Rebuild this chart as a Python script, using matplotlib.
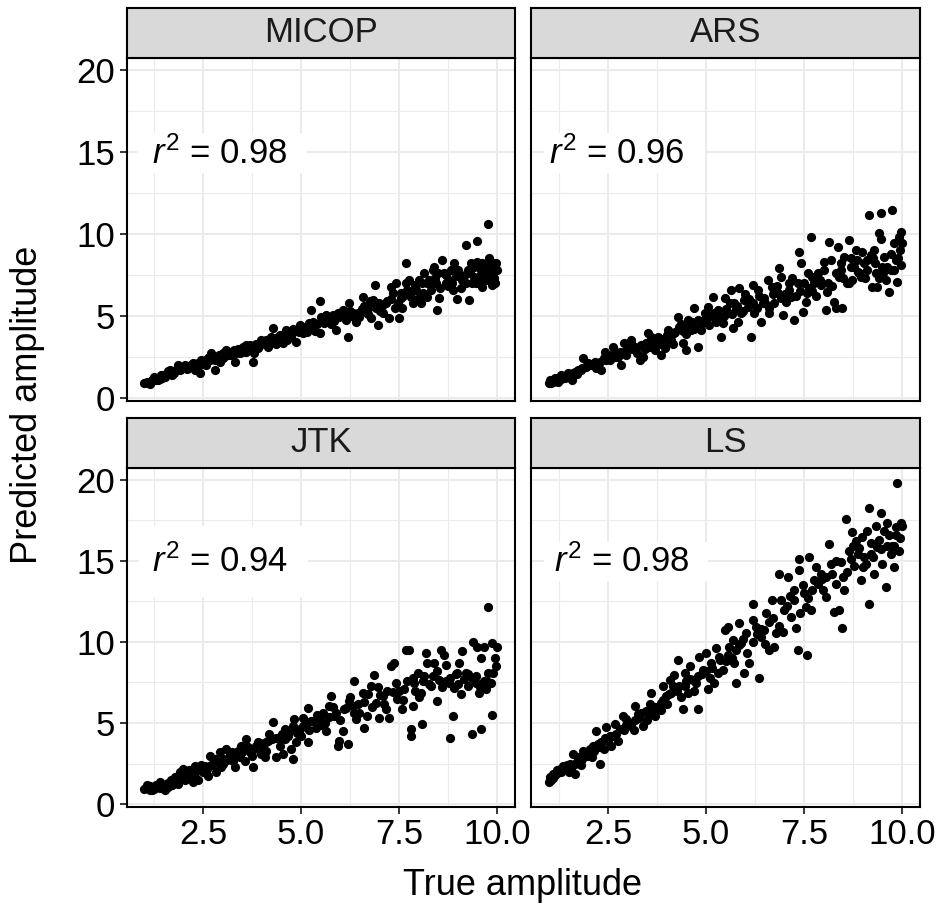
import numpy as np
import matplotlib
matplotlib.use("Agg")
import matplotlib.pyplot as plt
from matplotlib.patches import Rectangle

plt.rcParams['font.family'] = ['Liberation Sans', 'DejaVu Sans']
plt.rcParams['mathtext.fontset'] = 'custom'
plt.rcParams['mathtext.rm'] = 'Liberation Sans'
plt.rcParams['mathtext.it'] = 'Liberation Sans:italic'

# facet names and r^2 labels
panels = ['MICOP', 'ARS', 'JTK', 'LS']
r2_labels = ['0.98', '0.96', '0.94', '0.98']

# (true amplitude, predicted amplitude)
micop_pts = [
    (1.00, 0.87), (1.06, 0.98), (1.14, 0.81), (1.19, 1.08), (1.27, 1.18), (1.36, 1.08), (1.44, 1.38),
    (1.53, 1.28), (1.61, 1.49), (1.65, 1.69), (1.74, 1.59), (1.86, 1.99), (1.91, 1.69), (2.03, 1.89),
    (2.12, 1.79), (2.20, 1.99), (2.29, 1.69), (2.37, 2.10), (2.46, 2.30), (2.42, 1.49), (2.58, 1.99),
    (2.71, 2.71), (2.67, 2.30), (2.80, 1.69), (2.84, 2.50), (2.92, 2.20), (3.01, 2.40), (3.09, 2.91),
    (3.18, 2.60), (3.31, 2.20), (3.35, 2.71), (3.43, 2.91), (3.52, 3.11), (3.60, 2.81), (3.69, 3.21),
    (3.77, 2.20), (3.81, 2.71), (3.90, 3.01), (3.98, 3.52), (4.07, 3.32), (4.15, 3.11), (4.24, 3.72),
    (4.28, 4.23), (4.36, 3.52), (4.45, 3.82), (4.53, 3.32), (4.62, 4.13), (4.70, 3.72), (4.79, 4.03),
    (4.87, 3.42), (4.96, 4.44), (5.04, 3.93), (5.13, 4.23), (5.21, 4.54), (5.25, 5.35), (5.34, 4.33),
    (5.47, 5.92), (5.47, 3.93), (5.51, 4.94), (5.59, 4.54), (5.64, 5.05), (5.72, 4.74), (5.81, 5.05),
    (5.89, 4.13), (5.97, 4.94), (6.06, 5.35), (6.14, 4.74), (6.19, 3.72), (6.23, 5.76), (6.31, 5.15),
    (6.40, 4.64), (6.48, 4.94), (6.57, 6.16), (6.65, 5.25), (6.74, 5.55), (6.78, 4.84), (6.82, 5.96),
    (6.89, 6.88), (6.91, 5.45), (6.97, 4.42), (6.99, 5.76), (7.08, 5.15), (7.16, 5.76), (7.25, 4.84),
    (7.29, 6.78), (7.33, 6.37), (7.42, 6.98), (7.46, 5.76), (7.50, 4.84), (7.54, 6.06), (7.58, 5.45),
    (7.67, 8.24), (7.67, 6.98), (7.75, 7.18), (7.80, 6.16), (7.84, 5.76), (7.92, 6.57), (8.01, 6.06),
    (8.05, 5.76), (8.09, 6.98), (8.14, 7.59), (8.22, 6.16), (8.26, 7.18), (8.31, 6.57), (8.35, 7.79),
    (8.39, 8.00), (8.43, 6.98), (8.47, 5.35), (8.52, 6.06), (8.60, 8.40), (8.64, 7.59), (8.69, 6.98),
    (8.77, 7.18), (8.81, 7.79), (8.86, 6.57), (8.90, 8.20), (8.98, 6.00), (9.03, 7.59), (9.07, 6.67),
    (9.11, 7.18), (9.19, 9.32), (9.24, 7.79), (9.28, 5.96), (9.32, 8.20), (9.36, 6.98), (9.41, 7.39),
    (9.47, 9.58), (9.49, 8.30), (9.53, 6.98), (9.58, 7.79), (9.62, 6.78), (9.70, 7.18), (9.77, 10.60),
    (9.79, 8.50), (9.83, 7.39), (9.87, 6.88), (9.92, 8.00), (9.96, 8.20), (10.0, 7.79), (9.92, 7.28),
    (1.10, 0.90), (1.20, 1.00), (1.30, 1.10), (1.45, 1.20), (1.55, 1.45), (1.70, 1.40), (1.80, 1.70),
    (1.95, 1.75), (2.05, 2.00), (2.15, 1.90), (2.25, 2.10), (2.35, 1.90), (2.55, 2.20), (2.65, 2.50),
    (2.75, 2.40), (2.90, 2.60), (3.00, 2.70), (3.05, 2.55), (3.15, 2.80), (3.25, 2.70), (3.40, 3.00),
    (3.50, 2.80), (3.65, 3.00), (3.75, 3.10), (3.85, 3.30), (3.95, 3.20), (4.10, 3.50), (4.20, 3.40),
    (4.30, 3.60), (4.40, 3.70), (4.50, 3.60), (4.60, 3.90), (4.75, 3.70), (4.85, 4.10), (4.95, 4.00),
    (5.05, 4.30), (5.15, 4.00), (5.30, 4.60), (5.40, 4.50), (5.55, 4.70), (5.70, 4.90), (5.85, 4.70),
    (6.00, 5.10), (6.10, 5.00), (6.25, 5.30), (6.35, 4.90), (6.55, 5.40), (6.70, 5.10), (6.85, 5.60),
    (7.00, 5.30), (7.20, 5.90), (7.40, 5.50), (7.60, 6.20), (7.70, 6.60), (7.90, 6.90), (8.00, 7.20),
    (8.20, 7.00), (8.40, 7.30), (8.55, 6.70), (8.70, 7.50), (8.85, 7.00), (9.00, 7.80), (9.15, 7.40),
    (9.30, 7.60), (9.45, 7.00), (9.60, 8.20), (9.75, 7.60), (9.90, 7.60),
    (1.25, 1.25), (1.40, 1.15), (1.60, 1.60), (1.75, 1.50), (1.90, 1.85), (2.10, 1.75), (2.30, 2.00),
    (2.45, 2.05), (2.60, 2.35), (2.80, 2.30), (2.95, 2.45), (3.10, 2.60), (3.30, 2.90), (3.45, 2.75),
    (3.60, 3.20), (3.80, 3.00), (4.00, 3.40), (4.20, 3.60), (4.35, 3.30), (4.55, 3.80), (4.65, 3.50),
    (4.80, 4.20), (5.00, 4.10), (5.20, 4.40), (5.35, 4.10), (5.60, 4.80), (5.75, 4.50), (5.95, 5.20),
    (6.20, 4.90), (6.45, 5.20), (6.60, 5.60), (6.75, 5.90), (7.05, 5.60), (7.30, 6.00), (7.55, 6.40),
    (7.80, 6.50), (8.10, 6.40), (8.30, 6.90), (8.50, 7.60), (8.75, 6.80), (8.95, 7.40), (9.20, 7.00),
    (9.40, 8.00), (9.55, 7.40), (9.70, 8.00), (9.85, 8.30), (9.95, 7.00),
]

ars_pts = [
    (1.00, 0.87), (1.02, 1.08), (1.06, 0.87), (1.14, 1.18), (1.23, 0.98), (1.31, 1.38), (1.40, 1.18),
    (1.48, 1.49), (1.57, 1.08), (1.65, 1.59), (1.74, 1.69), (1.86, 2.40), (1.91, 1.89), (2.03, 1.99),
    (2.16, 2.20), (2.25, 1.89), (2.33, 1.69), (2.42, 2.81), (2.50, 2.60), (2.63, 3.11), (2.67, 2.50),
    (2.80, 2.81), (2.84, 1.99), (2.92, 3.32), (3.01, 2.91), (3.09, 3.52), (3.18, 3.11), (3.31, 2.30),
    (3.39, 2.50), (3.47, 3.32), (3.52, 3.93), (3.60, 3.42), (3.69, 2.91), (3.77, 3.72), (3.86, 2.60),
    (3.94, 3.01), (4.03, 4.13), (4.11, 3.52), (4.19, 3.93), (4.28, 4.94), (4.32, 4.33), (4.41, 3.32),
    (4.49, 2.91), (4.53, 4.74), (4.62, 4.13), (4.70, 5.45), (4.79, 3.11), (4.79, 4.74), (4.87, 4.13),
    (4.96, 5.15), (5.04, 5.55), (5.08, 4.44), (5.17, 6.16), (5.21, 4.94), (5.30, 5.35), (5.38, 3.72),
    (5.42, 4.54), (5.47, 6.06), (5.55, 5.15), (5.64, 6.57), (5.68, 4.23), (5.72, 5.76), (5.81, 4.64),
    (5.85, 6.67), (5.89, 5.15), (5.97, 5.96), (6.06, 5.55), (6.14, 3.72), (6.19, 6.88), (6.23, 5.15),
    (6.31, 6.57), (6.40, 4.64), (6.44, 5.76), (6.48, 6.06), (6.57, 7.18), (6.61, 5.15), (6.69, 6.78),
    (6.74, 5.76), (6.82, 6.37), (6.86, 7.89), (6.91, 7.39), (6.95, 5.05), (7.03, 5.86), (7.12, 6.98),
    (7.16, 6.16), (7.25, 4.74), (7.33, 6.98), (7.37, 8.91), (7.42, 8.20), (7.46, 5.25), (7.54, 5.86),
    (7.58, 6.37), (7.63, 6.67), (7.67, 9.83), (7.71, 7.39), (7.75, 6.98), (7.84, 7.59), (7.92, 6.88),
    (8.01, 7.79), (8.05, 5.35), (8.09, 6.47), (8.14, 9.52), (8.18, 8.40), (8.26, 5.86), (8.31, 5.45),
    (8.35, 9.22), (8.39, 7.39), (8.43, 7.79), (8.47, 5.45), (8.52, 8.61), (8.60, 6.98), (8.64, 9.62),
    (8.69, 8.50), (8.73, 7.18), (8.77, 8.00), (8.81, 9.01), (8.86, 7.69), (8.94, 7.39), (8.98, 8.91),
    (9.03, 8.20), (9.11, 7.79), (9.15, 11.15), (9.19, 8.71), (9.24, 6.78), (9.28, 9.01), (9.32, 7.59),
    (9.36, 6.78), (9.41, 10.03), (9.45, 11.25), (9.49, 8.00), (9.53, 8.61), (9.58, 7.18), (9.66, 6.47),
    (9.70, 7.79), (9.75, 11.45), (9.79, 9.42), (9.83, 8.40), (9.87, 7.08), (9.92, 9.83), (9.96, 10.13),
    (9.96, 8.10), (10.0, 9.42), (9.45, 9.69),
    (1.10, 0.95), (1.20, 1.10), (1.35, 1.20), (1.50, 1.30), (1.60, 1.50), (1.80, 1.70), (1.95, 1.90),
    (2.10, 2.00), (2.30, 2.20), (2.45, 2.30), (2.60, 2.60), (2.75, 2.50), (2.90, 2.80), (3.05, 3.10),
    (3.20, 2.90), (3.35, 3.20), (3.55, 3.10), (3.70, 3.40), (3.90, 3.60), (4.05, 3.40), (4.20, 4.00),
    (4.40, 4.10), (4.55, 4.50), (4.70, 4.20), (4.90, 4.70), (5.00, 4.60), (5.20, 5.20), (5.35, 5.00),
    (5.50, 5.40), (5.65, 5.10), (5.80, 5.60), (5.95, 5.30), (6.10, 6.00), (6.30, 5.50), (6.50, 5.80),
    (6.70, 6.30), (6.90, 6.10), (7.10, 6.60), (7.30, 6.20), (7.50, 7.00), (7.70, 6.50), (7.90, 7.20),
    (8.10, 7.00), (8.30, 7.60), (8.50, 7.30), (8.70, 8.00), (8.90, 7.60), (9.10, 8.40), (9.30, 8.20),
    (9.50, 7.60), (9.70, 8.80), (9.90, 8.50),
    (1.15, 1.00), (1.30, 1.15), (1.45, 1.35), (1.70, 1.45), (1.85, 1.80), (2.00, 2.10), (2.20, 1.80),
    (2.40, 2.40), (2.55, 2.30), (2.70, 2.70), (2.95, 2.60), (3.10, 3.20), (3.25, 2.70), (3.45, 3.00),
    (3.60, 3.70), (3.80, 3.30), (4.00, 3.80), (4.15, 3.30), (4.35, 4.50), (4.50, 3.90), (4.65, 4.60),
    (4.85, 4.40), (5.10, 5.00), (5.25, 4.60), (5.45, 5.00), (5.60, 5.80), (5.75, 5.40), (6.00, 6.30),
    (6.20, 5.80), (6.35, 6.20), (6.60, 5.50), (6.80, 6.80), (7.00, 6.30), (7.20, 7.30), (7.40, 6.50),
    (7.60, 7.60), (7.80, 6.20), (8.00, 8.30), (8.20, 6.80), (8.45, 8.20), (8.65, 7.00), (8.85, 8.40),
    (9.05, 7.30), (9.25, 8.50), (9.40, 7.30), (9.60, 8.00), (9.80, 7.80), (9.95, 9.00),
]

jtk_pts = [
    (1.00, 0.96), (1.06, 1.16), (1.14, 0.86), (1.23, 1.06), (1.31, 1.16), (1.40, 1.36), (1.53, 0.86),
    (1.61, 1.06), (1.69, 1.47), (1.78, 1.67), (1.86, 1.26), (1.91, 1.98), (1.99, 2.18), (2.08, 1.67),
    (2.16, 1.98), (2.25, 1.36), (2.29, 2.38), (2.37, 1.47), (2.46, 2.18), (2.54, 2.38), (2.63, 1.77),
    (2.67, 2.99), (2.75, 2.48), (2.84, 1.98), (2.92, 3.20), (3.01, 2.79), (3.09, 3.40), (3.18, 3.10),
    (3.26, 2.69), (3.31, 2.28), (3.39, 3.30), (3.47, 3.60), (3.56, 2.69), (3.60, 4.01), (3.69, 3.20),
    (3.77, 2.28), (3.81, 3.40), (3.90, 3.81), (3.98, 3.10), (4.07, 2.89), (4.11, 3.81), (4.19, 4.32),
    (4.28, 5.07), (4.36, 2.89), (4.45, 4.01), (4.53, 3.10), (4.58, 4.62), (4.66, 4.22), (4.75, 3.40),
    (4.79, 2.79), (4.83, 5.23), (4.87, 3.81), (4.96, 4.62), (5.04, 5.34), (5.13, 5.03), (5.17, 5.95),
    (5.17, 3.81), (5.25, 5.13), (5.38, 4.72), (5.47, 5.23), (5.55, 5.64), (5.64, 4.52), (5.72, 6.05),
    (5.76, 6.66), (5.85, 5.44), (5.93, 3.60), (5.97, 3.91), (6.06, 4.52), (6.10, 5.85), (6.19, 3.71),
    (6.23, 6.35), (6.31, 6.05), (6.36, 7.58), (6.40, 5.23), (6.48, 5.64), (6.57, 6.86), (6.61, 4.72),
    (6.69, 5.44), (6.78, 7.27), (6.86, 7.98), (6.91, 6.25), (6.99, 5.34), (7.08, 6.66), (7.16, 5.85),
    (7.25, 5.34), (7.29, 8.49), (7.37, 8.70), (7.42, 7.47), (7.50, 6.97), (7.58, 5.85), (7.63, 7.07),
    (7.67, 9.51), (7.75, 9.51), (7.80, 4.62), (7.80, 4.22), (7.84, 6.05), (7.88, 7.47), (7.97, 8.09),
    (8.05, 6.86), (8.09, 4.93), (8.14, 7.88), (8.18, 9.31), (8.22, 8.70), (8.31, 7.27), (8.39, 8.70),
    (8.47, 6.35), (8.52, 7.68), (8.56, 9.51), (8.64, 9.21), (8.69, 8.59), (8.77, 7.47), (8.79, 4.11),
    (8.86, 5.44), (8.90, 7.17), (8.98, 8.09), (9.03, 8.70), (9.07, 6.76), (9.11, 9.41), (9.19, 8.09),
    (9.24, 7.27), (9.36, 4.32), (9.38, 10.02), (9.45, 7.47), (9.49, 9.71), (9.53, 6.86), (9.58, 9.00),
    (9.58, 4.62), (9.66, 9.71), (9.70, 7.07), (9.75, 8.09), (9.77, 12.12), (9.83, 7.47), (9.87, 9.92),
    (9.87, 5.48), (9.96, 8.49), (10.0, 9.71),
    (1.10, 1.00), (1.20, 0.90), (1.35, 1.10), (1.45, 1.20), (1.60, 1.30), (1.75, 1.50), (1.90, 1.60),
    (2.00, 1.90), (2.20, 1.80), (2.35, 2.10), (2.50, 2.00), (2.70, 2.40), (2.85, 2.60), (3.00, 2.50),
    (3.15, 2.90), (3.30, 3.00), (3.50, 3.20), (3.65, 3.50), (3.85, 3.60), (4.00, 3.50), (4.15, 3.90),
    (4.35, 4.10), (4.50, 4.30), (4.70, 4.50), (4.90, 4.40), (5.05, 4.80), (5.30, 5.10), (5.50, 4.90),
    (5.70, 5.40), (5.90, 5.60), (6.15, 5.90), (6.35, 5.60), (6.60, 6.30), (6.80, 6.00), (7.00, 6.70),
    (7.20, 7.00), (7.45, 6.50), (7.70, 7.60), (7.90, 7.00), (8.10, 7.60), (8.35, 7.90), (8.60, 7.20),
    (8.80, 7.80), (9.00, 7.40), (9.25, 8.00), (9.45, 7.90), (9.65, 7.60), (9.90, 8.10),
    (1.15, 1.10), (1.25, 0.95), (1.40, 1.00), (1.55, 1.25), (1.70, 1.20), (1.85, 1.70), (2.05, 1.50),
    (2.15, 2.10), (2.30, 1.70), (2.45, 2.40), (2.60, 2.20), (2.80, 2.80), (2.95, 2.30), (3.10, 2.70),
    (3.25, 3.20), (3.45, 2.90), (3.60, 3.40), (3.75, 3.00), (3.95, 3.80), (4.10, 3.30), (4.25, 4.00),
    (4.45, 3.60), (4.60, 4.00), (4.80, 4.80), (5.00, 4.20), (5.20, 4.60), (5.40, 5.50), (5.60, 5.00),
    (5.80, 6.00), (6.00, 5.20), (6.25, 6.60), (6.45, 6.20), (6.70, 6.80), (6.95, 7.20), (7.10, 6.20),
    (7.35, 6.90), (7.60, 6.40), (7.85, 7.80), (8.00, 6.60), (8.25, 7.40), (8.45, 8.20), (8.70, 7.60),
    (8.95, 8.00), (9.15, 7.70), (9.35, 7.80), (9.55, 7.20), (9.75, 7.50), (9.95, 9.00),
]

ls_pts = [
    (1.00, 1.36), (1.02, 1.67), (1.10, 1.87), (1.19, 2.08), (1.27, 2.18), (1.36, 2.38), (1.44, 2.28),
    (1.53, 2.48), (1.65, 1.87), (1.61, 3.10), (1.74, 2.89), (1.86, 3.30), (1.95, 2.99), (2.03, 3.40),
    (2.12, 3.60), (2.20, 4.52), (2.29, 2.48), (2.33, 3.81), (2.42, 4.11), (2.46, 4.73), (2.54, 4.22),
    (2.58, 3.60), (2.67, 4.93), (2.80, 4.62), (2.88, 5.44), (2.97, 5.23), (3.09, 4.83), (3.18, 6.05),
    (3.26, 5.54), (3.39, 4.83), (3.47, 5.74), (3.56, 6.15), (3.60, 6.86), (3.69, 5.44), (3.77, 5.95),
    (3.86, 6.25), (3.90, 7.27), (3.98, 6.66), (4.07, 7.68), (4.11, 6.86), (4.19, 7.98), (4.28, 8.90),
    (4.32, 7.27), (4.41, 5.85), (4.45, 8.09), (4.53, 6.86), (4.58, 8.49), (4.66, 7.68), (4.75, 7.47),
    (4.79, 5.85), (4.83, 9.10), (4.92, 8.29), (5.00, 9.31), (5.04, 7.07), (5.13, 8.70), (5.21, 7.47),
    (5.25, 9.61), (5.34, 9.10), (5.42, 8.29), (5.47, 10.73), (5.55, 10.94), (5.59, 9.71), (5.68, 10.12),
    (5.72, 8.70), (5.76, 7.47), (5.85, 11.14), (5.89, 9.92), (5.97, 8.09), (6.02, 10.53), (6.10, 8.70),
    (6.19, 12.36), (6.19, 11.34), (6.27, 10.94), (6.36, 7.78), (6.40, 10.33), (6.48, 10.73), (6.53, 11.75),
    (6.61, 9.51), (6.69, 12.57), (6.74, 9.71), (6.78, 10.53), (6.86, 14.20), (6.91, 12.57), (6.99, 11.96),
    (7.08, 13.99), (7.16, 11.55), (7.25, 13.18), (7.29, 10.84), (7.33, 9.51), (7.37, 15.11), (7.37, 14.40),
    (7.46, 13.48), (7.54, 12.16), (7.58, 9.21), (7.63, 15.21), (7.67, 11.96), (7.75, 13.79), (7.84, 13.58),
    (7.92, 14.20), (7.97, 13.18), (8.05, 12.77), (8.14, 16.03), (8.18, 14.81), (8.26, 11.85), (8.31, 13.58),
    (8.39, 11.96), (8.47, 10.84), (8.52, 13.18), (8.56, 17.56), (8.60, 14.30), (8.64, 15.62), (8.73, 16.74),
    (8.77, 14.70), (8.81, 16.23), (8.86, 15.42), (8.94, 13.79), (8.98, 16.44), (9.03, 15.21), (9.07, 14.81),
    (9.11, 16.84), (9.15, 18.27), (9.15, 12.36), (9.19, 15.42), (9.28, 14.20), (9.32, 17.15), (9.36, 15.82),
    (9.45, 17.96), (9.49, 14.81), (9.53, 16.84), (9.58, 13.38), (9.62, 17.35), (9.70, 15.42), (9.75, 15.93),
    (9.79, 14.60), (9.83, 17.05), (9.87, 19.80), (9.92, 15.62), (9.96, 17.35), (10.0, 17.15),
    (1.05, 1.50), (1.15, 1.80), (1.30, 2.00), (1.45, 2.40), (1.55, 2.20), (1.70, 2.60), (1.85, 2.80),
    (2.00, 3.00), (2.15, 3.30), (2.30, 3.50), (2.50, 3.90), (2.70, 4.30), (2.90, 4.60), (3.05, 5.00),
    (3.20, 5.20), (3.35, 5.60), (3.55, 5.50), (3.70, 6.00), (3.90, 6.40), (4.05, 6.80), (4.25, 7.00),
    (4.45, 7.30), (4.60, 7.70), (4.80, 7.90), (5.00, 8.20), (5.15, 8.40), (5.35, 8.90), (5.55, 9.20),
    (5.75, 9.50), (5.95, 10.20), (6.20, 10.00), (6.40, 10.80), (6.60, 11.20), (6.85, 11.00), (7.05, 12.20),
    (7.25, 12.60), (7.50, 13.00), (7.70, 13.20), (7.95, 13.90), (8.20, 14.20), (8.45, 14.90), (8.70, 15.10),
    (8.90, 15.80), (9.20, 16.10), (9.40, 16.30), (9.60, 15.90), (9.85, 16.60),
    (1.10, 1.60), (1.20, 1.90), (1.35, 2.20), (1.50, 2.00), (1.65, 2.50), (1.80, 2.40), (1.95, 3.20),
    (2.10, 2.90), (2.25, 3.70), (2.40, 3.40), (2.60, 4.20), (2.75, 3.90), (2.95, 4.90), (3.15, 4.60),
    (3.30, 5.30), (3.50, 5.20), (3.65, 5.70), (3.85, 5.80), (4.00, 6.20), (4.15, 7.30), (4.35, 6.60),
    (4.50, 7.60), (4.70, 7.00), (4.90, 8.00), (5.10, 7.80), (5.30, 8.10), (5.50, 8.80), (5.65, 9.00),
    (5.85, 9.80), (6.05, 9.30), (6.30, 10.50), (6.50, 9.90), (6.70, 11.50), (6.95, 10.60), (7.15, 12.80),
    (7.40, 11.80), (7.60, 12.70), (7.80, 14.60), (8.05, 14.00), (8.30, 15.00), (8.50, 14.00), (8.75, 15.90),
    (9.00, 14.60), (9.25, 15.20), (9.45, 15.70), (9.65, 16.60), (9.80, 15.90), (9.95, 16.40),
]

panel_pts = [micop_pts, ars_pts, jtk_pts, ls_pts]

x_ticks = [2.5, 5.0, 7.5, 10.0]
x_tick_labels = ['2.5', '5.0', '7.5', '10.0']
x_minor = [1.25, 3.75, 6.25, 8.75]
y_ticks = [0, 5, 10, 15, 20]
y_minor = [2.5, 7.5, 12.5, 17.5]

# layout (figure fractions)
col_left = [0.1343, 0.5642]
panel_w = 0.4124
row_bottom = [0.5594, 0.1122]
row_h = [0.3768, 0.3733]
strip_h = 0.0550

# white box behind r^2 text, per panel (data units)
box_x = [(0.81, 5.14), (0.88, 4.97), (0.88, 5.17), (0.88, 5.05)]
box_y = [(13.73, 16.17), (13.73, 16.17), (12.79, 17.12), (13.78, 16.13)]
label_x = [1.21, 0.99, 1.21, 1.12]

fig = plt.figure(figsize=(9.42, 9.09), dpi=100)

for i, name in enumerate(panels):
    r, c = divmod(i, 2)
    ax = fig.add_axes([col_left[c], row_bottom[r], panel_w, row_h[r]])
    pts = np.array(panel_pts[i])
    ax.scatter(pts[:, 0], pts[:, 1], s=44, color='black', linewidths=0, zorder=3)

    ax.set_xlim(0.55, 10.45)
    ax.set_ylim(-0.17, 20.73)
    ax.set_xticks(x_ticks)
    ax.set_xticklabels(x_tick_labels)
    ax.set_xticks(x_minor, minor=True)
    ax.set_yticks(y_ticks)
    ax.set_yticks(y_minor, minor=True)
    ax.set_axisbelow(True)
    ax.grid(which='major', color='#EBEBEB', lw=1.4)
    ax.grid(which='minor', color='#EBEBEB', lw=0.8)
    ax.tick_params(which='minor', length=0)
    ax.tick_params(which='major', direction='out', length=5, width=1.1,
                   labelsize=25, pad=3, colors='black')
    if r == 0:
        ax.tick_params(bottom=False, labelbottom=False)
    if c == 1:
        ax.tick_params(left=False, labelleft=False)
    for sp in ax.spines.values():
        sp.set_color('black')
        sp.set_linewidth(1.5)

    ax.add_patch(Rectangle((box_x[i][0], box_y[i][0]), box_x[i][1] - box_x[i][0],
                           box_y[i][1] - box_y[i][0], facecolor='white',
                           edgecolor='none', zorder=2))
    ax.text(label_x[i], 14.3, r'$r^2$ = ' + r2_labels[i], fontsize=25,
            ha='left', va='baseline', zorder=4)

    # facet strip
    sax = fig.add_axes([col_left[c], row_bottom[r] + row_h[r], panel_w, strip_h])
    sax.set_facecolor('#D9D9D9')
    sax.set_xticks([])
    sax.set_yticks([])
    for sp in sax.spines.values():
        sp.set_color('black')
        sp.set_linewidth(1.5)
    sax.text(0.5, 0.5, name, transform=sax.transAxes, ha='center', va='center',
             fontsize=25, color='#1A1A1A')

fig.text(0.029, 0.5545, 'Predicted amplitude', rotation=90, ha='center',
         va='center', fontsize=26)
fig.text(0.555, 0.026, 'True amplitude', ha='center', va='center', fontsize=26)

fig.savefig('out.png', dpi=100)
